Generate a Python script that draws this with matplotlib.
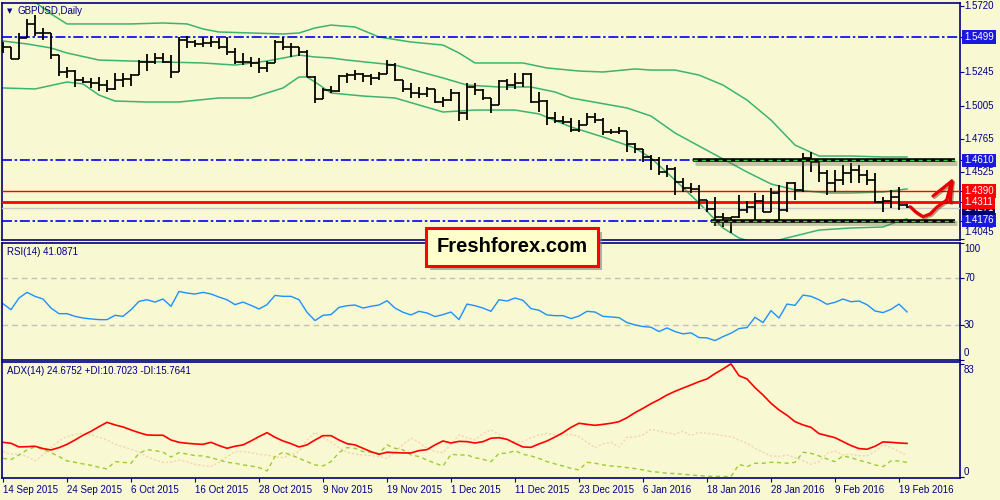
import matplotlib.pyplot as plt
import matplotlib.patheffects as pe
import matplotlib.transforms as mtransforms
from matplotlib.patches import Rectangle
import numpy as np

plt.rcParams['font.family'] = ['Liberation Sans', 'DejaVu Sans']

# ---------------- data ----------------
date_labels = ['14 Sep 2015', '24 Sep 2015', '6 Oct 2015', '16 Oct 2015', '28 Oct 2015',
               '9 Nov 2015', '19 Nov 2015', '1 Dec 2015', '11 Dec 2015', '23 Dec 2015',
               '6 Jan 2016', '18 Jan 2016', '28 Jan 2016', '9 Feb 2016', '19 Feb 2016']
date_pos = [0, 8, 16, 24, 32, 40, 48, 56, 64, 72, 80, 88, 96, 104, 112]

open_ = [1.5445, 1.5429, 1.5343, 1.5490, 1.5593, 1.5530, 1.5526, 1.5369, 1.5249, 1.5255,
         1.5189, 1.5177, 1.5166, 1.5153, 1.5122, 1.5189, 1.5195, 1.5225, 1.5321, 1.5321,
         1.5346, 1.5321, 1.5249, 1.5477, 1.5465, 1.5446, 1.5454, 1.5465, 1.5429, 1.5393,
         1.5321, 1.5316, 1.5310, 1.5274, 1.5310, 1.5465, 1.5429, 1.5425, 1.5393, 1.5213,
         1.5050, 1.5117, 1.5110, 1.5218, 1.5225, 1.5233, 1.5218, 1.5202, 1.5233, 1.5297,
         1.5189, 1.5122, 1.5094, 1.5090, 1.5122, 1.5033, 1.5045, 1.5094, 1.4954, 1.5141,
         1.5117, 1.5058, 1.5009, 1.5184, 1.5153, 1.5166, 1.5233, 1.5033, 1.5040, 1.4914,
         1.4896, 1.4890, 1.4829, 1.4865, 1.4925, 1.4901, 1.4817, 1.4812, 1.4822, 1.4729,
         1.4690, 1.4637, 1.4613, 1.4529, 1.4546, 1.4457, 1.4410, 1.4405, 1.4325, 1.4258,
         1.4203, 1.4194, 1.4201, 1.4253, 1.4273, 1.4320, 1.4241, 1.4375, 1.4253, 1.4446,
         1.4397, 1.4626, 1.4601, 1.4518, 1.4446, 1.4469, 1.4518, 1.4541, 1.4505, 1.4469,
         1.4313, 1.4318, 1.4349, 1.4290]
high = [1.5465, 1.5429, 1.5526, 1.5626, 1.5657, 1.5562, 1.5526, 1.5369, 1.5285, 1.5261,
        1.5213, 1.5202, 1.5213, 1.5189, 1.5242, 1.5242, 1.5233, 1.5333, 1.5377, 1.5382,
        1.5382, 1.5369, 1.5501, 1.5506, 1.5477, 1.5497, 1.5506, 1.5490, 1.5501, 1.5418,
        1.5382, 1.5353, 1.5346, 1.5328, 1.5477, 1.5497, 1.5454, 1.5429, 1.5405, 1.5218,
        1.5130, 1.5146, 1.5225, 1.5238, 1.5261, 1.5238, 1.5233, 1.5249, 1.5333, 1.5314,
        1.5189, 1.5166, 1.5137, 1.5137, 1.5125, 1.5069, 1.5122, 1.5105, 1.5166, 1.5166,
        1.5122, 1.5058, 1.5189, 1.5194, 1.5238, 1.5238, 1.5240, 1.5105, 1.5045, 1.4961,
        1.4930, 1.4914, 1.4901, 1.4954, 1.4950, 1.4914, 1.4834, 1.4849, 1.4825, 1.4734,
        1.4690, 1.4649, 1.4637, 1.4577, 1.4565, 1.4482, 1.4446, 1.4433, 1.4325, 1.4349,
        1.4230, 1.4205, 1.4361, 1.4320, 1.4375, 1.4361, 1.4410, 1.4433, 1.4457, 1.4457,
        1.4662, 1.4673, 1.4601, 1.4541, 1.4541, 1.4577, 1.4590, 1.4577, 1.4541, 1.4518,
        1.4349, 1.4397, 1.4421, 1.4300]
low = [1.5382, 1.5338, 1.5338, 1.5490, 1.5506, 1.5477, 1.5338, 1.5218, 1.5202, 1.5137,
       1.5166, 1.5130, 1.5112, 1.5105, 1.5115, 1.5137, 1.5146, 1.5225, 1.5256, 1.5305,
       1.5310, 1.5202, 1.5249, 1.5418, 1.5429, 1.5429, 1.5429, 1.5410, 1.5369, 1.5305,
       1.5297, 1.5285, 1.5242, 1.5249, 1.5310, 1.5405, 1.5357, 1.5362, 1.5209, 1.5026,
       1.5050, 1.5094, 1.5105, 1.5170, 1.5189, 1.5177, 1.5153, 1.5189, 1.5233, 1.5184,
       1.5105, 1.5058, 1.5058, 1.5069, 1.5026, 1.4993, 1.5040, 1.4896, 1.4901, 1.5081,
       1.5045, 1.4954, 1.5009, 1.5117, 1.5122, 1.5137, 1.5026, 1.4961, 1.4865, 1.4882,
       1.4873, 1.4817, 1.4817, 1.4865, 1.4878, 1.4793, 1.4801, 1.4801, 1.4673, 1.4662,
       1.4601, 1.4541, 1.4505, 1.4493, 1.4361, 1.4385, 1.4374, 1.4258, 1.4241, 1.4138,
       1.4129, 1.4086, 1.4195, 1.4234, 1.4181, 1.4241, 1.4241, 1.4158, 1.4241, 1.4325,
       1.4385, 1.4529, 1.4457, 1.4361, 1.4385, 1.4433, 1.4446, 1.4446, 1.4433, 1.4302,
       1.4241, 1.4266, 1.4253, 1.4266]
close = [1.5429, 1.5343, 1.5490, 1.5593, 1.5530, 1.5526, 1.5369, 1.5249, 1.5255, 1.5189,
         1.5177, 1.5166, 1.5153, 1.5122, 1.5189, 1.5195, 1.5225, 1.5321, 1.5321, 1.5346,
         1.5321, 1.5249, 1.5477, 1.5465, 1.5446, 1.5454, 1.5465, 1.5429, 1.5393, 1.5321,
         1.5316, 1.5310, 1.5274, 1.5310, 1.5465, 1.5429, 1.5425, 1.5393, 1.5213, 1.5050,
         1.5117, 1.5110, 1.5218, 1.5225, 1.5233, 1.5218, 1.5202, 1.5233, 1.5297, 1.5189,
         1.5122, 1.5094, 1.5090, 1.5122, 1.5033, 1.5045, 1.5094, 1.4954, 1.5141, 1.5117,
         1.5058, 1.5009, 1.5184, 1.5153, 1.5166, 1.5233, 1.5033, 1.5040, 1.4914, 1.4896,
         1.4890, 1.4829, 1.4865, 1.4925, 1.4901, 1.4817, 1.4812, 1.4822, 1.4729, 1.4690,
         1.4637, 1.4613, 1.4529, 1.4546, 1.4457, 1.4410, 1.4405, 1.4325, 1.4258, 1.4203,
         1.4194, 1.4201, 1.4253, 1.4273, 1.4320, 1.4241, 1.4375, 1.4253, 1.4446, 1.4397,
         1.4626, 1.4601, 1.4518, 1.4446, 1.4469, 1.4518, 1.4541, 1.4505, 1.4469, 1.4313,
         1.4318, 1.4349, 1.4290, 1.4277]

# Bollinger bands read at sample bars
upper_x = [0, 2, 4, 6, 8, 12, 16, 20, 23, 25, 27, 31, 35, 37, 39, 41, 44, 47, 51, 55,
           57, 59, 62, 65, 68, 72, 75, 79, 81, 84, 87, 90, 93, 96, 99, 102, 106, 110, 113]
upper_y = [1.5924, 1.5837, 1.5751, 1.5665, 1.5593, 1.5593, 1.5593, 1.5600, 1.5593, 1.5557,
           1.5535, 1.5528, 1.5521, 1.5528, 1.5564, 1.5585, 1.5571, 1.5499, 1.5463, 1.5441,
           1.5384, 1.5312, 1.5312, 1.5312, 1.5276, 1.5254, 1.5247, 1.5269, 1.5261, 1.5261,
           1.5225, 1.5153, 1.5045, 1.4901, 1.4721, 1.4642, 1.4642, 1.4635, 1.4635]
mid_x = [0, 3, 6, 8, 12, 16, 20, 25, 29, 33, 37, 39, 41, 43, 49, 55, 58, 62, 66, 69,
         71, 78, 81, 84, 87, 90, 93, 96, 99, 103, 106, 110, 113]
mid_y = [1.5470, 1.5449, 1.5420, 1.5384, 1.5333, 1.5326, 1.5319, 1.5312, 1.5297, 1.5326,
         1.5369, 1.5355, 1.5348, 1.5333, 1.5297, 1.5204, 1.5153, 1.5139, 1.5139, 1.5103,
         1.5060, 1.4988, 1.4930, 1.4808, 1.4714, 1.4621, 1.4527, 1.4441, 1.4398, 1.4376,
         1.4376, 1.4383, 1.4405]
lowb_x = [0, 4, 8, 10, 12, 14, 18, 22, 27, 31, 35, 37, 38, 39, 41, 45, 49, 55, 59, 64,
          67, 71, 75, 79, 81, 84, 87, 90, 92, 94, 96, 98, 102, 106, 110, 112, 113]
lowb_y = [1.5132, 1.5125, 1.5175, 1.5161, 1.5081, 1.5038, 1.5031, 1.5031, 1.5060, 1.5060,
          1.5132, 1.5211, 1.5211, 1.5175, 1.5096, 1.5074, 1.5060, 1.4959, 1.4973, 1.4973,
          1.4945, 1.4851, 1.4779, 1.4700, 1.4628, 1.4469, 1.4304, 1.4124, 1.4052, 1.4016,
          1.4023, 1.4052, 1.4109, 1.4124, 1.4131, 1.4174, 1.4189]

price_ticks = [1.5720, 1.5245, 1.5005, 1.4765, 1.4525, 1.4045]
lvl_top, lvl_hi, lvl_r1, lvl_r2, lvl_bid, lvl_lo = 1.5499, 1.4610, 1.4390, 1.4311, 1.4271, 1.4176

rsi = [48.1, 43.0, 53.0, 57.8, 54.4, 52.1, 44.4, 39.6, 39.6, 37.3,
       35.9, 35.1, 34.5, 34.5, 38.2, 37.3, 43.0, 50.1, 51.5, 49.5,
       52.1, 45.9, 58.6, 57.2, 56.4, 57.8, 56.4, 53.8, 51.5, 47.3,
       49.5, 46.7, 43.6, 47.3, 55.2, 54.4, 54.4, 51.5, 40.8, 33.7,
       38.2, 38.8, 45.0, 46.4, 47.0, 44.4, 45.9, 47.0, 50.7, 44.4,
       40.8, 38.5, 41.6, 40.2, 37.1, 38.8, 41.0, 34.5, 47.8, 46.4,
       44.4, 41.6, 51.5, 50.4, 53.0, 51.0, 43.9, 42.5, 38.5, 37.9,
       37.9, 35.4, 37.6, 41.6, 41.0, 37.3, 36.8, 36.2, 32.0, 30.0,
       28.6, 28.0, 24.3, 27.4, 24.3, 22.3, 23.2, 19.2, 18.9, 16.6,
       20.0, 22.9, 26.9, 27.7, 36.5, 32.0, 42.2, 35.9, 47.8, 46.7,
       55.5, 54.4, 51.5, 47.6, 49.3, 52.1, 49.8, 50.4, 47.3, 41.9,
       40.5, 43.3, 47.8, 41.1]

adx = [25.5, 24.8, 22.1, 22.3, 22.6, 20.9, 19.9, 21.6, 24.0, 27.2,
       30.7, 33.6, 37.0, 40.2, 38.3, 36.8, 34.6, 32.6, 30.9, 30.7,
       30.7, 27.2, 25.5, 24.8, 24.3, 24.0, 25.5, 23.1, 21.1, 22.6,
       23.6, 26.5, 29.7, 32.6, 29.2, 26.5, 24.5, 22.1, 23.6, 27.2,
       30.4, 30.4, 27.2, 24.5, 23.6, 21.1, 18.6, 16.7, 18.2, 17.9,
       17.7, 17.7, 19.4, 20.1, 23.6, 26.5, 25.0, 26.2, 26.0, 25.0,
       26.0, 28.5, 28.9, 27.7, 24.8, 22.1, 21.8, 24.3, 26.5, 29.4,
       32.6, 36.5, 39.5, 38.7, 38.0, 38.7, 39.5, 40.7, 43.6, 47.3,
       50.5, 53.9, 56.9, 60.3, 63.0, 65.4, 67.7, 70.1, 72.1, 76.0,
       79.5, 83.2, 74.5, 72.1, 65.7, 60.3, 54.2, 49.3, 45.4, 40.7,
       38.3, 36.5, 31.9, 30.4, 28.9, 26.0, 23.1, 20.9, 20.4, 22.6,
       25.8, 25.5, 25.0, 24.7]
plus_di = [13.7, 12.8, 16.2, 19.9, 22.1, 20.4, 17.9, 15.0, 11.8, 10.8,
           9.6, 8.6, 7.1, 5.9, 11.3, 10.8, 10.1, 17.4, 20.1, 19.4,
           18.2, 14.7, 17.9, 16.9, 15.7, 15.5, 14.2, 12.5, 10.8, 10.1,
           8.9, 8.1, 6.9, 4.4, 15.0, 18.2, 16.2, 13.7, 11.3, 8.9,
           8.1, 11.3, 17.9, 21.6, 21.1, 18.7, 18.2, 17.2, 23.6, 21.1,
           19.9, 16.2, 15.0, 12.5, 10.1, 8.1, 16.7, 16.2, 16.2, 14.2,
           13.0, 11.3, 17.4, 17.4, 19.4, 16.7, 15.5, 13.7, 11.3, 9.6,
           8.1, 6.4, 5.2, 10.8, 10.1, 8.9, 8.1, 7.6, 6.9, 6.2,
           5.2, 4.0, 3.5, 2.7, 2.5, 2.0, 1.5, 1.0, 0.6, 0.5,
           0.4, 0.3, 9.3, 7.6, 10.1, 10.1, 10.8, 10.6, 10.1, 10.8,
           18.2, 17.4, 15.5, 13.3, 11.3, 15.5, 14.2, 12.3, 10.8, 8.9,
           7.6, 11.8, 11.8, 10.7]
minus_di = [18.7, 16.7, 16.9, 15.0, 11.8, 16.2, 21.6, 26.5, 29.7, 31.4,
            32.1, 30.9, 29.2, 27.2, 24.0, 22.3, 20.4, 18.2, 15.0, 12.5,
            10.8, 10.8, 12.5, 11.3, 9.3, 8.4, 7.6, 10.8, 15.0, 18.7,
            18.7, 17.9, 16.7, 16.2, 14.7, 14.2, 16.2, 18.7, 27.2, 32.9,
            29.7, 25.5, 21.6, 18.2, 16.9, 16.2, 15.7, 15.0, 13.7, 18.2,
            24.0, 28.5, 25.5, 21.1, 18.7, 17.9, 24.0, 30.9, 28.9, 27.2,
            32.1, 34.6, 31.4, 27.2, 26.0, 26.0, 28.9, 30.9, 32.1, 30.9,
            30.9, 31.4, 29.7, 25.5, 21.6, 24.5, 25.5, 22.1, 29.2, 29.4,
            30.9, 35.1, 33.8, 32.6, 31.4, 33.8, 30.4, 32.9, 32.1, 31.4,
            30.4, 29.7, 27.2, 24.8, 21.1, 18.2, 15.5, 15.2, 16.2, 14.2,
            12.0, 9.3, 11.3, 17.4, 19.1, 16.2, 16.7, 15.7, 15.5, 18.7,
            23.6, 21.8, 18.7, 15.8]

# ---------------- style ----------------
BG = '#F8F8D2'
NAVY = '#000080'
BLUE = '#0000F0'
BAND = '#3CB371'
FS = 7

fig = plt.figure(figsize=(10, 5), dpi=100, facecolor=BG)
ax = fig.add_axes([0.002, 0.52, 0.958, 0.474])
ax_rsi = fig.add_axes([0.002, 0.28, 0.958, 0.234])
ax_adx = fig.add_axes([0.002, 0.044, 0.958, 0.232])

x = np.arange(len(close))
xlim = (-0.125, 119.625)

for a in (ax, ax_rsi, ax_adx):
    a.set_facecolor(BG)
    a.set_xlim(*xlim)
    for s in a.spines.values():
        s.set_color(NAVY)
        s.set_linewidth(1.2)
    a.yaxis.tick_right()
    a.tick_params(axis='y', length=3, color=NAVY, labelright=False, labelleft=False)
    a.tick_params(axis='x', length=0, labelbottom=False)


def rlabel(a, val, txt, fc=None, dy=0, z=5):
    tr = mtransforms.offset_copy(a.get_yaxis_transform(), fig=fig, x=4, y=dy, units='dots')
    if fc is None:
        a.text(1, val, txt, transform=tr, fontsize=FS, color=NAVY, va='center',
               ha='left', clip_on=False, zorder=z)
    else:
        a.text(1, val, txt, transform=tr, fontsize=FS, color='white', va='center',
               ha='left', clip_on=False, zorder=z,
               bbox=dict(boxstyle='square,pad=0.2', fc=fc, ec='none'))


# ---------------- main price panel ----------------
ax.set_ylim(1.40374, 1.57438)
ax.set_yticks(price_ticks + [lvl_top, lvl_hi, lvl_r1, lvl_r2, lvl_lo])

ax.plot(upper_x, upper_y, color=BAND, lw=1.1, zorder=2)
ax.plot(mid_x, mid_y, color=BAND, lw=1.1, zorder=2)
ax.plot(lowb_x, lowb_y, color=BAND, lw=1.1, zorder=2)

dashdot = (0, (6, 1.6, 1.5, 1.6))
ax.axhline(lvl_top, color=BLUE, lw=1.2, ls=dashdot, zorder=3)
ax.plot([xlim[0], 86.25], [lvl_hi, lvl_hi], color=BLUE, lw=1.2, ls=dashdot, zorder=3)
ax.plot([xlim[0], 88.5], [lvl_lo, lvl_lo], color=BLUE, lw=1.2, ls=dashdot, zorder=3)
ax.axhline(lvl_bid, color='#C8C8C8', lw=1, zorder=3)
ax.axhline(lvl_r1, color='#FF0000', lw=1, zorder=3)
ax.axhline(lvl_r2, color='#FF0000', lw=2, zorder=3)

shadow = [pe.SimpleLineShadow(offset=(1.2, -1.8), shadow_color='#606050', alpha=0.35, linewidth=3.5),
          pe.Normal()]
for lv, x0 in ((lvl_hi, 86.25), (lvl_lo, 88.5)):
    ax.plot([x0, 119], [lv, lv], color='black', lw=2.6, zorder=5, path_effects=shadow,
            solid_capstyle='butt')
    ax.plot([x0, 119], [lv, lv], color='#3ACD3A', lw=1, ls=(0, (3, 3)), zorder=6)

# OHLC bars
ax.vlines(x, low, high, color='black', lw=1.3, zorder=4)
ax.hlines(open_, x - 0.45, x, color='black', lw=1.2, zorder=4)
ax.hlines(close, x, x + 0.45, color='black', lw=1.2, zorder=4)

# hand drawn red arrow
arrow_x = [113.4, 114.1, 115.0, 115.9, 116.75, 117.96, 118.6]
arrow_y = [1.4277, 1.4239, 1.4205, 1.4225, 1.4275, 1.4325, 1.4462]
red_shadow = [pe.SimpleLineShadow(offset=(1, -1), shadow_color='#600000', alpha=0.4), pe.Normal()]
ax.plot(arrow_x, arrow_y, color='#E80000', lw=2.3, solid_capstyle='round',
        solid_joinstyle='round', zorder=7, path_effects=red_shadow)
ax.plot([116.25, 118.6, 118.4], [1.4354, 1.4462, 1.4311], color='#E80000', lw=2.3,
        solid_capstyle='round', solid_joinstyle='round', zorder=7, path_effects=red_shadow)

for v in price_ticks[:-1]:
    rlabel(ax, v, f'{v:.4f}')
rlabel(ax, 1.4045, '1.4045', dy=7)
rlabel(ax, lvl_top, f'{lvl_top:.4f}', fc='#1818E0')
rlabel(ax, lvl_hi, f'{lvl_hi:.4f}', fc='#1818E0')
rlabel(ax, lvl_lo, f'{lvl_lo:.4f}', fc='#1818E0', dy=1)
rlabel(ax, lvl_r1, f'{lvl_r1:.4f}', fc='#FF0000', z=6)
rlabel(ax, lvl_bid, f'{lvl_bid:.4f}', fc='#000070', z=5)
rlabel(ax, lvl_r2, f'{lvl_r2:.4f}', fc='#FF0000', z=7)

# ---------------- RSI panel ----------------
ax_rsi.set_ylim(0, 100)
ax_rsi.set_yticks([100, 70, 30, 0])
for lv in (70, 30):
    ax_rsi.axhline(lv, color='#C0C0C0', lw=1, ls=(0, (4, 3)))
ax_rsi.plot(x, rsi, color='#1E90FF', lw=1)
rlabel(ax_rsi, 100, '100', dy=-6)
rlabel(ax_rsi, 70, '70')
rlabel(ax_rsi, 30, '30')
rlabel(ax_rsi, 0, '0', dy=7)

# ---------------- ADX panel ----------------
ax_adx.set_ylim(-0.74, 84.56)
ax_adx.set_yticks([83, 0])
ax_adx.plot(x, minus_di, color='#F5D3B0', lw=1, ls=(0, (1.5, 1.5)))
ax_adx.plot(x, plus_di, color='#9ACD32', lw=1, ls=(0, (3, 2.5)))
ax_adx.plot(x, adx, color='#FF0000', lw=1.2)
rlabel(ax_adx, 83, '83', dy=-5.5)
rlabel(ax_adx, 0, '0', dy=5)

ax_adx.set_xticks(date_pos)
ax_adx.set_xticklabels(date_labels, ha='left')
ax_adx.tick_params(axis='x', length=3, color=NAVY, labelbottom=True, labelsize=FS,
                   labelcolor=NAVY, pad=2)

# ---------------- captions ----------------
fig.text(0.007, 1 - 11 / 500, '\u25BC', fontsize=5, color=NAVY, va='center',
         family=['DejaVu Sans'])
fig.text(0.018, 1 - 10.5 / 500, 'GBPUSD,Daily', fontsize=FS, color=NAVY, va='center')
fig.text(0.007, 1 - 252 / 500, 'RSI(14) 41.0871', fontsize=FS, color=NAVY, va='center')
fig.text(0.007, 1 - 371 / 500, 'ADX(14) 24.6752 +DI:10.7023 -DI:15.7641', fontsize=FS,
         color=NAVY, va='center')

# Freshforex badge
box = Rectangle((0.426, 1 - 266 / 500), 0.172, 38 / 500, transform=fig.transFigure,
                fc='#FFFFCC', ec='#FF0000', lw=2.2, zorder=10)
box.set_path_effects([pe.SimplePatchShadow(offset=(3, -3), shadow_rgbFace='#808080', alpha=0.6),
                      pe.Normal()])
fig.patches.append(box)
fig.text(0.512, 1 - 247 / 500, 'Freshforex.com', fontsize=14.5, fontweight='bold',
         color='black', ha='center', va='center', zorder=11)

fig.savefig('out.png', dpi=100, facecolor=BG)
